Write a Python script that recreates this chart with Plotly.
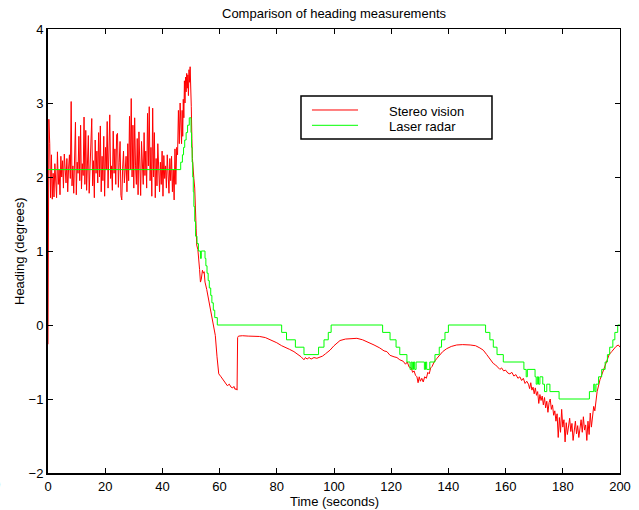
import numpy as np
import plotly.graph_objects as go

# ---- Stereo vision heading (degrees) ----
# first two samples: start-up jump
stereo_start_t = [0.0, 0.15]
stereo_start_v = [-0.26, 2.78]

# 0.3 s samples, 0.3 s .. 46.5 s (straight-line driving, noisy)
stereo_noisy_v = [
    2.78, 2.45, 1.72, 2.30, 1.70, 2.05, 1.73, 2.18, 1.95, 1.72,
    2.34, 1.90, 2.10, 1.76, 2.28, 2.00, 2.22, 1.85, 2.31, 2.05,
    1.92, 2.25, 1.80, 2.12, 2.30, 1.98, 3.02, 1.88, 2.15, 1.78,
    2.40, 2.74, 1.76, 2.20, 2.05, 2.55, 1.95, 2.70, 1.84, 2.18,
    2.02, 2.81, 1.90, 2.63, 1.82, 2.30, 2.56, 1.78, 2.10, 2.45,
    2.79, 1.88, 2.22, 1.72, 2.50, 2.05, 2.35, 1.92, 2.60, 2.00,
    2.69, 1.80, 2.28, 1.95, 2.55, 1.74, 2.40, 2.10, 2.75, 1.85,
    2.30, 2.84, 1.98, 2.15, 1.82, 2.62, 2.05, 2.38, 1.90, 2.57,
    2.59, 1.86, 2.20, 2.48, 1.75, 1.69, 2.12, 2.35, 1.92, 2.05,
    2.28, 1.80, 2.45, 1.95, 2.82, 2.10, 3.06, 2.00, 2.70, 1.85,
    2.80, 2.15, 1.90, 2.52, 1.76, 2.61, 2.05, 1.75, 2.48, 2.20,
    1.90, 2.60, 2.02, 2.35, 1.85, 2.86, 2.15, 2.95, 1.95, 2.40,
    1.74, 2.93, 2.00, 2.60, 1.72, 2.25, 1.88, 2.45, 2.05, 1.80,
    2.20, 1.90, 2.35, 1.74, 2.29, 1.98, 2.15, 1.85, 2.30, 2.02,
    1.78, 2.25, 1.95, 2.28, 1.80, 2.10, 1.69, 2.38, 1.90, 2.40,
    2.30, 2.90, 2.45, 3.00, 2.55,
]

# 0.2 s samples, 46.7 s .. 50.5 s (turn-in peak)
stereo_peak_v = [
    2.45, 2.90, 2.55, 3.05, 2.80, 3.30, 3.00, 3.35, 3.15, 3.40,
    3.20, 3.38, 3.10, 3.45, 3.28, 3.49, 3.30, 2.95, 2.52, 2.25,
]

# descent and dip before the jump at ~66 s
stereo_drop_t = [51.0, 51.3, 51.8, 52.0, 52.4, 52.7, 53.0, 53.3, 53.6, 54.0,
                 54.3, 54.6, 54.9, 55.5, 56.2, 57.0, 57.8, 58.5, 59.1, 59.7,
                 60.5, 61.2, 62.0, 62.7, 63.4, 64.0, 64.6, 65.0, 65.4, 65.8,
                 66.1, 66.3]
stereo_drop_v = [1.98, 1.85, 1.30, 1.08, 1.02, 0.92, 0.75, 0.58, 0.62, 0.74,
                 0.70, 0.72, 0.58, 0.48, 0.34, 0.20, 0.02, -0.14, -0.43, -0.66,
                 -0.70, -0.74, -0.78, -0.82, -0.80, -0.84, -0.85, -0.83, -0.87, -0.86,
                 -0.88, -0.17]

# smooth middle section
stereo_mid_t = [66.6, 68.0, 70.0, 72.0, 74.0, 76.0, 78.0, 80.0, 81.7, 83.0,
                84.5, 86.0, 87.5, 88.5, 89.5, 90.0, 90.6, 91.3, 92.0, 93.0,
                94.0, 95.0, 96.0, 97.0, 98.6, 100.0, 101.0, 102.1, 104.0, 106.0,
                108.0, 110.0, 112.0, 114.0, 116.0, 117.5, 118.5, 119.6, 121.0, 122.0,
                123.0, 124.2, 125.0, 125.6, 126.3, 127.0, 127.5, 128.0, 128.5, 129.0,
                129.4, 129.8, 130.2, 130.7, 131.2, 131.7, 132.3, 132.8, 133.3, 133.8,
                134.3, 135.0, 136.0, 137.0, 138.0, 139.4, 141.0, 142.9, 145.0, 147.6,
                149.5, 151.0, 152.2, 153.4, 154.5, 155.7, 156.5, 157.2, 158.0, 158.6,
                159.3, 160.0, 160.8, 161.5, 162.2, 162.9, 163.6, 164.3, 165.0, 165.6,
                166.2, 166.8, 167.4]
stereo_mid_v = [-0.15, -0.145, -0.15, -0.15, -0.155, -0.17, -0.20, -0.24, -0.28, -0.30,
                -0.33, -0.36, -0.40, -0.43, -0.47, -0.44, -0.46, -0.44, -0.46, -0.44,
                -0.45, -0.44, -0.42, -0.39, -0.34, -0.28, -0.24, -0.21, -0.19, -0.18,
                -0.18, -0.20, -0.23, -0.27, -0.31, -0.35, -0.36, -0.41, -0.43, -0.44,
                -0.47, -0.49, -0.53, -0.50, -0.57, -0.58, -0.64, -0.62, -0.68, -0.70,
                -0.78, -0.70, -0.76, -0.72, -0.77, -0.70, -0.72, -0.64, -0.66, -0.58,
                -0.56, -0.50, -0.45, -0.41, -0.36, -0.32, -0.29, -0.27, -0.265, -0.27,
                -0.28, -0.31, -0.34, -0.40, -0.46, -0.52, -0.54, -0.57, -0.60, -0.58,
                -0.62, -0.61, -0.65, -0.66, -0.64, -0.69, -0.67, -0.72, -0.70, -0.75,
                -0.72, -0.79, -0.76]

# 0.4 s samples, 168 s .. 192 s (noisy section of the last turn)
stereo_late_v = [
    -0.80, -0.86, -0.78, -0.88, -0.84, -0.93, -0.85, -0.95, -0.90, -1.06,
    -0.94, -1.02, -0.96, -1.08, -0.98, -1.12, -1.03, -1.18, -1.05, -1.00,
    -1.14, -1.08, -1.22, -1.16, -1.30, -1.20, -1.52, -1.25, -1.45, -1.14,
    -1.38, -1.28, -1.58, -1.32, -1.48, -1.35, -1.26, -1.44, -1.33, -1.56,
    -1.40, -1.30, -1.47, -1.36, -1.52, -1.38, -1.28, -1.45, -1.24, -1.42,
    -1.35, -1.56, -1.30, -1.48, -1.19, -1.38, -1.22, -1.10, -1.16, -0.98,
    -0.90,
]

stereo_end_t = [193.0, 194.2, 195.3, 196.2, 197.1, 198.0, 198.6, 199.4, 200.0]
stereo_end_v = [-0.74, -0.61, -0.47, -0.40, -0.36, -0.31, -0.29, -0.27, -0.30]

# ---- Laser radar heading (degrees), held between updates ----
laser_t = [0.0, 46.4, 47.0, 47.4, 47.8, 48.3, 48.8, 49.4, 50.0, 50.2,
           50.4, 50.6, 50.8, 51.0, 51.3, 51.6, 52.1, 52.6, 53.3, 53.6,
           54.9, 55.2, 55.6, 56.0, 56.4, 56.9, 57.3, 57.8, 58.3, 59.2,
           81.7, 83.4, 86.5, 89.5, 94.6, 96.5, 98.0, 99.0, 117.0, 119.6,
           121.7, 123.0, 125.5, 126.6, 127.0, 127.4, 127.8, 128.2, 128.7, 131.6,
           132.0, 132.4, 133.5, 135.3, 136.8, 137.6, 138.8, 140.0, 153.0, 154.5,
           155.7, 157.0, 159.2, 166.4, 167.2, 167.6, 170.3, 170.7, 171.1, 171.5,
           172.0, 173.0, 173.6, 174.4, 175.5, 178.7, 189.3, 190.8, 191.2, 191.6,
           192.5, 193.6, 194.8, 195.6, 196.4, 197.5, 198.2, 199.2, 200.0]
laser_v = [2.1, 2.2, 2.3, 2.4, 2.5, 2.6, 2.7, 2.8, 2.6, 2.4,
           2.2, 2.0, 1.8, 1.6, 1.4, 1.2, 1.1, 1.0, 0.9, 1.0,
           0.9, 0.8, 0.7, 0.6, 0.5, 0.4, 0.3, 0.2, 0.1, 0.0,
           -0.1, -0.2, -0.3, -0.4, -0.3, -0.2, -0.1, 0.0, -0.1, -0.2,
           -0.3, -0.4, -0.5, -0.6, -0.5, -0.6, -0.5, -0.6, -0.5, -0.6,
           -0.5, -0.6, -0.5, -0.4, -0.3, -0.2, -0.1, 0.0, -0.1, -0.2,
           -0.3, -0.4, -0.5, -0.6, -0.7, -0.6, -0.7, -0.8, -0.7, -0.8,
           -0.7, -0.8, -0.9, -0.8, -0.9, -1.0, -0.9, -0.8, -0.9, -0.8,
           -0.7, -0.6, -0.5, -0.4, -0.3, -0.2, -0.1, 0.0, 0.0]

x_ticks = [0, 20, 40, 60, 80, 100, 120, 140, 160, 180, 200]
y_ticks = [-2, -1, 0, 1, 2, 3, 4]

# assemble the stereo series
stereo_noisy_t = np.linspace(0.3, 46.5, len(stereo_noisy_v))
stereo_peak_t = np.linspace(46.7, 50.5, len(stereo_peak_v))
stereo_late_t = np.linspace(168.0, 192.0, len(stereo_late_v))

stereo_t = np.concatenate([stereo_start_t, stereo_noisy_t, stereo_peak_t,
                           stereo_drop_t, stereo_mid_t, stereo_late_t, stereo_end_t])
stereo_v = np.concatenate([stereo_start_v, stereo_noisy_v, stereo_peak_v,
                           stereo_drop_v, stereo_mid_v, stereo_late_v, stereo_end_v])

FONT = "Liberation Sans, Arial, Helvetica, sans-serif"

fig = go.Figure()
fig.add_trace(go.Scatter(x=stereo_t, y=stereo_v, mode="lines", name="Stereo vision",
                         line=dict(color="#ff0000", width=1)))
fig.add_trace(go.Scatter(x=laser_t, y=laser_v, mode="lines", name="Laser radar",
                         line=dict(color="#00ff00", width=1, shape="hv")))
# empty trace that carries the mirrored top/right axes
fig.add_trace(go.Scatter(x=[], y=[], xaxis="x2", yaxis="y2", showlegend=False,
                         hoverinfo="skip"))

axis_common = dict(showgrid=False, zeroline=False, ticks="inside", ticklen=5,
                   tickwidth=1, tickcolor="black", showline=True, linecolor="black",
                   automargin=False)

fig.update_layout(
    width=639, height=510,
    margin=dict(l=48, r=19, t=29, b=37, autoexpand=False),
    paper_bgcolor="white", plot_bgcolor="white",
    showlegend=False,
    font=dict(family=FONT, size=13, color="black"),
    xaxis=dict(range=[0, 200], tickvals=x_ticks, linewidth=2, **axis_common),
    yaxis=dict(range=[-2, 4], tickvals=y_ticks, linewidth=2, **axis_common),
    xaxis2=dict(range=[0, 200], tickvals=x_ticks, overlaying="x", side="top",
                showticklabels=False, linewidth=1, **axis_common),
    yaxis2=dict(range=[-2, 4], tickvals=y_ticks, overlaying="y", side="right",
                showticklabels=False, linewidth=1, **axis_common),
)

# legend box
fig.add_shape(type="rect", xref="paper", yref="paper",
              x0=0.4423, x1=0.7762, y0=0.7523, y1=0.8491,
              line=dict(color="black", width=1.5), fillcolor="white", layer="above")
fig.add_shape(type="line", xref="paper", yref="paper",
              x0=0.4615, x1=0.5420, y0=0.8176, y1=0.8176,
              line=dict(color="#ff0000", width=1), layer="above")
fig.add_shape(type="line", xref="paper", yref="paper",
              x0=0.4615, x1=0.5420, y0=0.7831, y1=0.7831,
              line=dict(color="#00ff00", width=1), layer="above")

annotations = [
    dict(text="Stereo vision", x=0.5921, y=0.8153, xanchor="left", yanchor="middle"),
    dict(text="Laser radar", x=0.5921, y=0.7815, xanchor="left", yanchor="middle"),
    dict(text="Comparison of heading measurements", x=0.5, y=1.0338,
         xanchor="center", yanchor="middle"),
    dict(text="Time (seconds)", x=0.5, y=-0.0640, xanchor="center", yanchor="middle"),
    dict(text="Heading (degrees)", x=-0.0507, y=0.5, textangle=-90,
         xanchor="center", yanchor="middle"),
    dict(text="0", x=-0.0804, y=-0.0248, xanchor="right", yanchor="middle"),
]
for a in annotations:
    fig.add_annotation(xref="paper", yref="paper", showarrow=False,
                       font=dict(family=FONT, size=13, color="black"), **a)

fig.write_html("out.html")
